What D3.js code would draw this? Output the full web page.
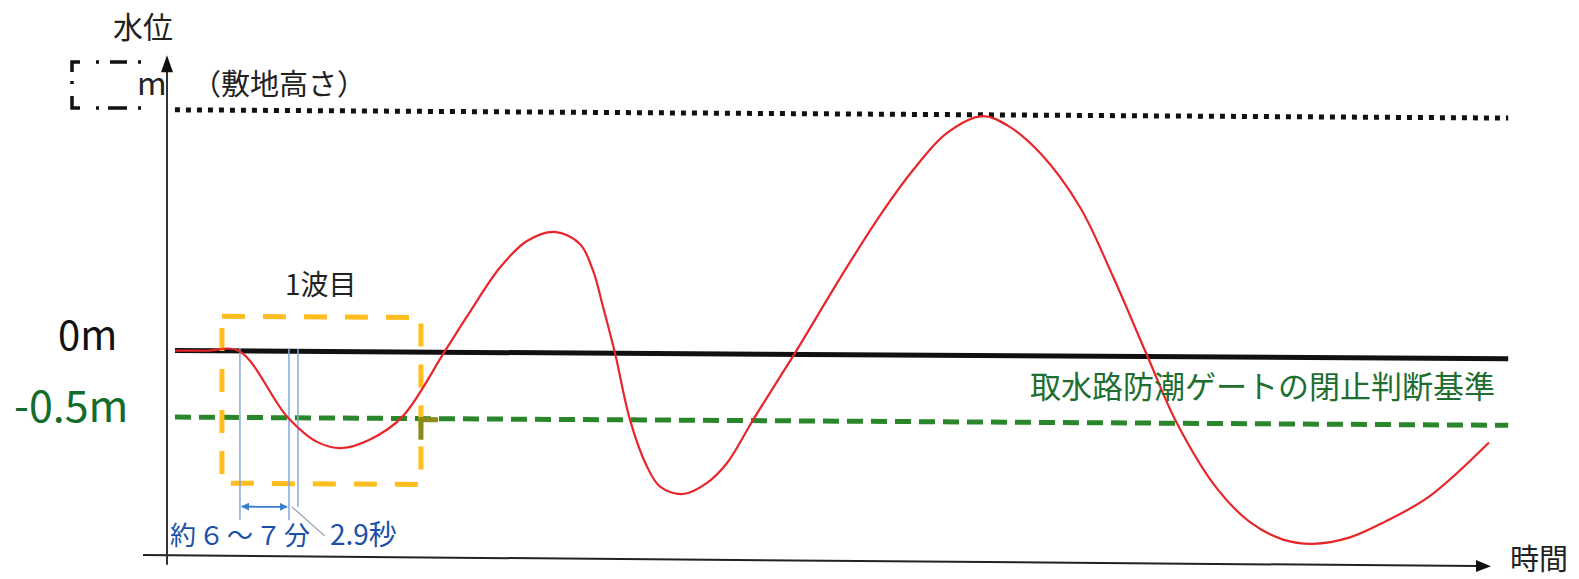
<!DOCTYPE html>
<html>
<head>
<meta charset="utf-8">
<script src="https://cdn.jsdelivr.net/npm/d3@7/dist/d3.min.js"></script>
<style>
  body { margin: 0; background: #fff; }
  svg { display: block; }
  text { font-family: "Noto Sans CJK JP", "Noto Sans", sans-serif; }
</style>
</head>
<body>
<script>
// 波形データ（時間は0〜100の相対値、水位はm）
const waveTime  = [0.6, 3.0, 5.44, 9.06, 11.33, 13.22, 15.33, 17.75, 21.0, 22.66, 25.15, 27.19, 29.3, 31.19, 32.18, 32.93, 33.84, 34.97, 36.25, 37.24, 38.97, 40.79, 42.3, 44.26, 46.3, 47.43, 51.36, 54.0, 56.34, 58.9, 61.56, 63.5, 66.0, 68.96, 71.45, 74.02, 76.28, 79.31, 81.8, 84.3, 86.56, 89.35, 92.0, 95.32, 99.85];
const waveLevel = [0, 0, 0, -0.49, -0.68, -0.725, -0.66, -0.49, 0.01, 0.27, 0.64, 0.84, 0.91, 0.82, 0.62, 0.35, 0.0, -0.50, -0.85, -1.0, -1.055, -0.97, -0.82, -0.495, -0.17, 0.01, 0.66, 1.07, 1.39, 1.67, 1.80, 1.73, 1.52, 1.12, 0.60, 0.01, -0.50, -0.99, -1.24, -1.37, -1.40, -1.35, -1.23, -1.04, -0.63];

// 基準線
const siteLevel = 1.81;      // 敷地高さ
const zeroLevel = 0;         // 0m
const gateLevel = -0.5;      // 閉止判断基準
const lineStart = 0.6;
const lineEnd = 101.3;

// 1波目の枠
const firstWaveBox = { t0: 4.15, t1: 19.18, top: 0.26, bottom: -0.995 };

// 約6〜7分 と 2.9秒 の目盛り
const markTimes = [5.51, 9.21, 9.89];
const markBottoms = [-1.27, -1.27, -1.17];
const spanLevel = -1.17;

const width = 1579, height = 579;
const x0 = 167;

const svg = d3.select("body").append("svg")
  .attr("width", width)
  .attr("height", height);

const defs = svg.append("defs");
defs.append("marker")
  .attr("id", "blueHead")
  .attr("viewBox", "0 0 10 10")
  .attr("refX", 9).attr("refY", 5)
  .attr("markerWidth", 4).attr("markerHeight", 4)
  .attr("orient", "auto-start-reverse")
  .append("path")
  .attr("d", "M0,0 L10,5 L0,10 z")
  .attr("fill", "#3a7fd0");

const xScale = d3.scaleLinear().domain([0, 100]).range([x0, 1491]);
const yScale = d3.scaleLinear().domain([0, -0.5]).range([350.5, 417]);

// スキャン画像の傾きに合わせて少し傾ける
const plot = svg.append("g")
  .attr("transform", `translate(${x0},0) skewY(0.355) translate(${-x0},0)`);

// 軸
const axisY = yScale(-1.54);
svg.append("g")
  .attr("transform", `translate(${x0},${axisY}) skewY(0.47) translate(${-x0},${-axisY})`)
  .call(g => {
    g.append("line")
      .attr("x1", 143).attr("x2", xScale(99))
      .attr("y1", axisY).attr("y2", axisY)
      .attr("stroke", "#222").attr("stroke-width", 2);
    g.append("path")
      .attr("d", `M${xScale(100)},${axisY} l-15,-6 v12 z`)
      .attr("fill", "#111");
  });

svg.append("line")
  .attr("x1", x0).attr("x2", x0)
  .attr("y1", yScale(-1.61)).attr("y2", yScale(2.1))
  .attr("stroke", "#333").attr("stroke-width", 2);
svg.append("path")
  .attr("d", `M${x0},${yScale(2.22)} l-6,17 h12 z`)
  .attr("fill", "#111");

// 敷地高さ（点線）
plot.append("line")
  .attr("x1", xScale(lineStart)).attr("x2", xScale(lineEnd))
  .attr("y1", yScale(siteLevel)).attr("y2", yScale(siteLevel))
  .attr("stroke", "#111").attr("stroke-width", 5)
  .attr("stroke-dasharray", "5,6");

// 0m
plot.append("line")
  .attr("x1", xScale(lineStart)).attr("x2", xScale(lineEnd))
  .attr("y1", yScale(zeroLevel)).attr("y2", yScale(zeroLevel))
  .attr("stroke", "#111").attr("stroke-width", 5);

// -0.5m（緑破線）
plot.append("line")
  .attr("x1", xScale(lineStart)).attr("x2", xScale(lineEnd))
  .attr("y1", yScale(gateLevel)).attr("y2", yScale(gateLevel))
  .attr("stroke", "#2a862a").attr("stroke-width", 5)
  .attr("stroke-dasharray", "16,8");

// 1波目の枠（オレンジ破線）
plot.append("rect")
  .attr("x", xScale(firstWaveBox.t0))
  .attr("y", yScale(firstWaveBox.top))
  .attr("width", xScale(firstWaveBox.t1) - xScale(firstWaveBox.t0))
  .attr("height", yScale(firstWaveBox.bottom) - yScale(firstWaveBox.top))
  .attr("fill", "none")
  .attr("stroke", "#ffbe1e").attr("stroke-width", 5)
  .attr("stroke-dasharray", "23,18");

// 枠の右側の小さなカギ
plot.append("path")
  .attr("d", `M${xScale(firstWaveBox.t1)},${yScale(-0.66)} V${yScale(gateLevel) + 1} h17`)
  .attr("fill", "none")
  .attr("stroke", "#8a8a1c").attr("stroke-width", 5);

// 目盛り線（青）
plot.selectAll(".mark")
  .data(markTimes)
  .enter().append("line")
  .attr("class", "mark")
  .attr("x1", d => xScale(d)).attr("x2", d => xScale(d))
  .attr("y1", yScale(0.02))
  .attr("y2", (d, i) => yScale(markBottoms[i]))
  .attr("stroke", "#86a8de").attr("stroke-width", 1.5);

plot.append("line")
  .attr("x1", xScale(markTimes[0]) + 2).attr("x2", xScale(markTimes[1]) - 2)
  .attr("y1", yScale(spanLevel)).attr("y2", yScale(spanLevel))
  .attr("stroke", "#3a7fd0").attr("stroke-width", 2)
  .attr("marker-start", "url(#blueHead)")
  .attr("marker-end", "url(#blueHead)");

plot.append("line")
  .attr("x1", xScale(markTimes[1]) + 3).attr("x2", xScale(markTimes[2]) + 27)
  .attr("y1", yScale(spanLevel)).attr("y2", yScale(spanLevel) + 29)
  .attr("stroke", "#8d9cb4").attr("stroke-width", 1.2);

// 水位の波形
const wave = waveTime.map((t, i) => ({ t: t, level: waveLevel[i] }));
const line = d3.line()
  .x(d => xScale(d.t))
  .y(d => yScale(d.level))
  .curve(d3.curveCatmullRom.alpha(0.5));

plot.append("path")
  .datum(wave)
  .attr("d", line)
  .attr("fill", "none")
  .attr("stroke", "#e8262a").attr("stroke-width", 2.2);

// 左上の枠 [ ]m
svg.append("path")
  .attr("d", "M141,62 H72 V108 H141")
  .attr("fill", "none")
  .attr("stroke", "#111").attr("stroke-width", 3.5)
  .attr("stroke-dasharray", "3,11,17,11,3,16,18,9,3,12,20,16,3,9,19,11,3,100");

// テキスト
const labels = [
  { text: "水位", x: 113, y: 38, size: 30, color: "#222" },
  { text: "m", x: 137, y: 95, size: 32, color: "#222" },
  { text: "（敷地高さ）", x: 192, y: 95, size: 29, color: "#222" },
  { text: "1波目", x: 285, y: 295, size: 28, color: "#222" },
  { text: "0m", x: 58, y: 350, size: 40, color: "#111" },
  { text: "-0.5m", x: 14, y: 422, size: 43, color: "#136b2c" },
  { text: "取水路防潮ゲートの閉止判断基準", x: 1030, y: 398, size: 31, color: "#1d6e30" },
  { text: "2.9秒", x: 330, y: 545, size: 28, color: "#1b4fa8" },
  { text: "時間", x: 1510, y: 570, size: 29, color: "#222" }
];

svg.selectAll(".label")
  .data(labels)
  .enter().append("text")
  .attr("class", "label")
  .attr("x", d => d.x).attr("y", d => d.y)
  .attr("font-size", d => d.size)
  .attr("fill", d => d.color)
  .text(d => d.text);

svg.append("text")
  .attr("x", 170).attr("y", 545)
  .attr("font-size", 26)
  .attr("fill", "#1b4fa8")
  .attr("textLength", 140)
  .attr("lengthAdjust", "spacing")
  .text("約６～７分");
</script>
</body>
</html>
